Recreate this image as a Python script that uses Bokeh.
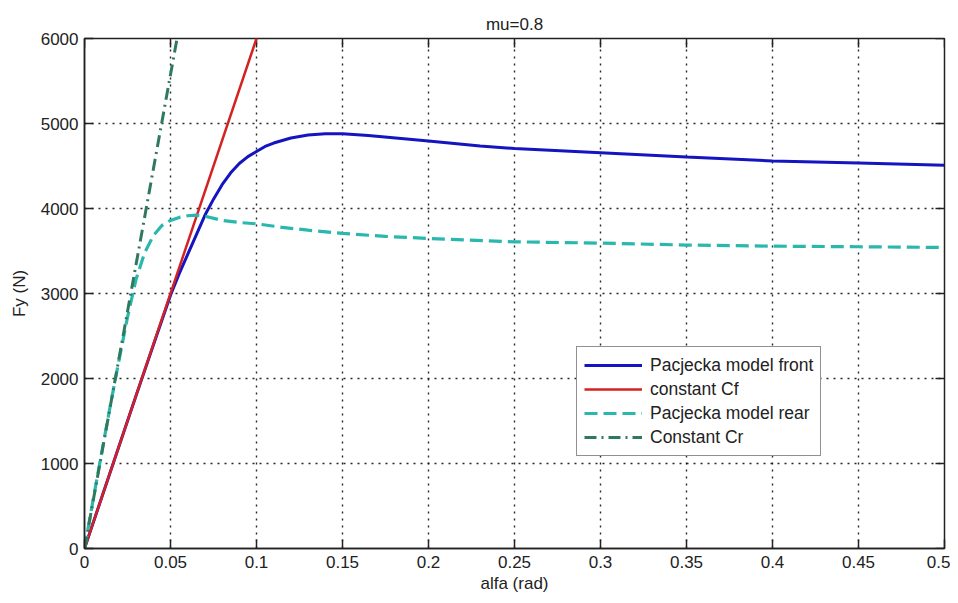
import math
from bokeh.plotting import figure
from bokeh.models import Legend, LegendItem, FixedTicker, Range1d
from bokeh.embed import file_html
from bokeh.resources import INLINE

# ---- data ----
alfa_front = [0.0, 0.01, 0.02, 0.03, 0.04, 0.05, 0.055, 0.06, 0.065, 0.07, 0.075,
              0.08, 0.085, 0.09, 0.095, 0.10, 0.105, 0.11, 0.12, 0.13, 0.14, 0.15,
              0.165, 0.20, 0.23, 0.25, 0.30, 0.35, 0.40, 0.45, 0.50]
fy_front = [0, 600, 1200, 1800, 2390, 2980, 3230, 3460, 3690, 3920, 4110,
            4280, 4420, 4530, 4610, 4670, 4730, 4770, 4830, 4865, 4880, 4880,
            4860, 4795, 4735, 4705, 4655, 4605, 4560, 4535, 4510]

alfa_rear = [0.0, 0.005, 0.01, 0.015, 0.02, 0.025, 0.03, 0.035, 0.04, 0.045, 0.05,
             0.055, 0.06, 0.065, 0.07, 0.08, 0.09, 0.10, 0.115, 0.13, 0.15, 0.175,
             0.20, 0.25, 0.30, 0.35, 0.40, 0.45, 0.50]
fy_rear = [0, 570, 1130, 1680, 2210, 2720, 3170, 3480, 3680, 3800, 3860,
           3895, 3915, 3922, 3910, 3860, 3835, 3820, 3778, 3745, 3707, 3672,
           3648, 3608, 3593, 3570, 3557, 3550, 3542]

Cf = 60000.0    # N/rad, front cornering stiffness
Cr = 111500.0   # N/rad, rear cornering stiffness
alfa_const = [0.0, 0.5]
fy_cf = [Cf * a for a in alfa_const]
fy_cr = [Cr * a for a in alfa_const]

x_ticks = [0, 0.05, 0.1, 0.15, 0.2, 0.25, 0.3, 0.35, 0.4, 0.45, 0.5]
x_tick_labels = ["0", "0.05", "0.1", "0.15", "0.2", "0.25", "0.3", "0.35", "0.4", "0.45", "0.5"]
y_ticks = [0, 1000, 2000, 3000, 4000, 5000, 6000]
x_min, x_max = 0.0, 0.5
y_min, y_max = 0.0, 6000.0

labels = ["Pacjecka model front", "constant Cf", "Pacjecka model rear", "Constant Cr"]

FONT = "Liberation Sans"
FS = "17px"
INK = "#222222"

p = figure(width=950, height=595, x_range=Range1d(x_min, x_max), y_range=Range1d(y_min, y_max),
           output_backend="svg", toolbar_location=None,
           min_border_left=84, min_border_right=6, min_border_top=38, min_border_bottom=46,
           title="mu=0.8")
p.title.align = "center"
p.title.text_font = FONT
p.title.text_font_size = FS
p.title.text_font_style = "normal"
p.title.text_color = INK

p.outline_line_color = INK
p.outline_line_width = 1.5

xt = FixedTicker(ticks=x_ticks)
yt = FixedTicker(ticks=y_ticks)
p.xaxis.ticker = xt
p.yaxis.ticker = yt
p.xaxis.major_label_overrides = {t: l for t, l in zip(x_ticks, x_tick_labels)}
p.xaxis.axis_label = "alfa (rad)"
p.yaxis.axis_label = "Fy (N)"
for ax in list(p.xaxis) + list(p.yaxis):
    ax.major_tick_in = 9
    ax.major_tick_out = 0
    ax.minor_tick_in = 0
    ax.minor_tick_out = 0
    ax.axis_line_color = INK
    ax.axis_line_width = 1.5
    ax.major_tick_line_color = INK
    ax.major_tick_line_width = 1.5
    ax.major_label_text_font = FONT
    ax.major_label_text_font_size = FS
    ax.major_label_text_color = INK
    ax.axis_label_text_font = FONT
    ax.axis_label_text_font_size = FS
    ax.axis_label_text_font_style = "normal"
    ax.axis_label_text_color = INK
for ax in p.xaxis:
    ax.major_label_standoff = 7
    ax.axis_label_standoff = 3
for ax in p.yaxis:
    ax.major_label_standoff = 6
    ax.axis_label_standoff = 9

# inward ticks on the top and right edges of the box (MATLAB style)
p.ray(x=x_ticks, y=[y_max] * len(x_ticks), length=9, length_units="screen",
      angle=-math.pi / 2, line_color=INK, line_width=1.5)
p.ray(x=[x_max] * len(y_ticks), y=y_ticks, length=9, length_units="screen",
      angle=math.pi, line_color=INK, line_width=1.5)

p.xgrid.ticker = xt
p.ygrid.ticker = yt
for g in (p.xgrid[0], p.ygrid[0]):
    g.grid_line_color = "#111111"
    g.grid_line_dash = "2 5"
    g.grid_line_width = 1.4
    g.grid_line_alpha = 0.9

r_front = p.line(alfa_front, fy_front, line_color="#1414c0", line_width=3)
r_cf = p.line(alfa_const, fy_cf, line_color="#d42222", line_width=2.5)
r_rear = p.line(alfa_rear, fy_rear, line_color="#2ab7ae", line_width=3.2, line_dash="13 6")
r_cr = p.line(alfa_const, fy_cr, line_color="#2f7a5e", line_width=3, line_dash="12 5 2 5")

legend = Legend(items=[LegendItem(label=l, renderers=[r]) for l, r in
                       zip(labels, [r_front, r_cf, r_rear, r_cr])],
                location=(492, 92))
legend.label_text_font = FONT
legend.label_text_font_size = "17.5px"
legend.label_text_color = INK
legend.glyph_width = 58
legend.glyph_height = 22
legend.label_height = 22
legend.label_standoff = 8
legend.spacing = 2
legend.padding = 7
legend.margin = 0
legend.border_line_color = INK
legend.border_line_width = 1.5
legend.background_fill_alpha = 1.0
p.add_layout(legend, "center")

open("out.html", "w").write(file_html(p, INLINE))
